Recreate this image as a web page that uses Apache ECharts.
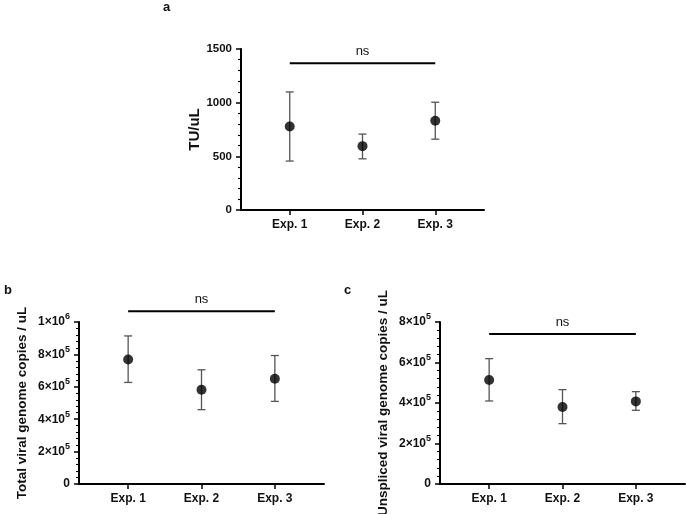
<!DOCTYPE html>
<html>
<head>
<meta charset="utf-8">
<script src="https://cdn.jsdelivr.net/npm/echarts@6/dist/echarts.min.js"></script>
<style>html,body{margin:0;padding:0;background:#fff}#c{width:686px;height:514px}</style>
</head>
<body>
<div id="c"></div>
<script>
// ---- data ----
var expPos = [1, 2, 3];
var expLabels = ['Exp. 1', 'Exp. 2', 'Exp. 3'];

var aMean = [778, 595, 831];
var aLow  = [456, 477, 660];
var aHigh = [1100, 707, 1004];
var aNs = 1367;

var bMean = [768000, 582000, 650000];
var bLow  = [627000, 459000, 510000];
var bHigh = [914000, 705000, 793000];
var bNs = 1066000;

var cMean = [513600, 380000, 408000];
var cLow  = [410000, 298000, 364000];
var cHigh = [619000, 466000, 456000];
var cNs = 741000;

var panelTitles = ['TU/uL', 'Total viral genome copies / uL', 'Unspliced viral genome copies / uL'];
var panelLetters = ['a', 'b', 'c'];

// ---- chart ----
var FONT = '"Liberation Sans", Arial, sans-serif';
var chart = echarts.init(document.getElementById('c'), null, {renderer: 'canvas'});

function supFmt(v) {
  if (v === 0) return '{b|0}';
  var e = Math.floor(Math.log10(v) + 1e-9);
  var m = Math.round(v / Math.pow(10, e));
  return '{b|' + m + '×10}{s|' + e + '}';
}

function xAxis(i) {
  return {
    type: 'value', gridIndex: i, min: 0.33, max: 3.67,
    axisLine: {show: true, lineStyle: {color: '#000', width: 2}},
    axisTick: {show: true, customValues: expPos, length: 5, lineStyle: {color: '#000', width: 1.5}},
    axisLabel: {show: true, customValues: expPos, margin: 9,
      fontFamily: FONT, fontWeight: 'bold', fontSize: 12, color: '#111',
      formatter: function (v) { return expLabels[Math.round(v) - 1]; }},
    splitLine: {show: false}
  };
}

function yAxis(i, max, interval, sup, name, gap) {
  return {
    type: 'value', gridIndex: i, min: 0, max: max, interval: interval,
    name: name, nameLocation: 'middle', nameGap: gap, nameRotate: 90,
    nameTextStyle: {fontFamily: FONT, fontWeight: 'bold', fontSize: i === 0 ? 15 : 13.5, color: '#111'},
    axisLine: {show: true, lineStyle: {color: '#000', width: 2}},
    axisTick: {show: true, length: 5, lineStyle: {color: '#000', width: 1.5}},
    minorTick: {show: true, splitNumber: 5, length: 3, lineStyle: {color: '#000', width: 1.1}},
    splitLine: {show: false},
    axisLabel: {margin: 9, fontFamily: FONT, fontWeight: 'bold', fontSize: 11.5, color: '#111',
      formatter: sup ? supFmt : function (v) { return '' + v; },
      rich: sup ? {
        b: {fontFamily: FONT, fontWeight: 'bold', fontSize: 12, color: '#111', lineHeight: 19},
        s: {fontFamily: FONT, fontWeight: 'bold', fontSize: 9, color: '#111', lineHeight: 9, verticalAlign: 'top'}
      } : undefined
    }
  };
}

function errSeries(i, low, high) {
  return {
    type: 'custom', xAxisIndex: i, yAxisIndex: i, clip: false, z: 2,
    data: expPos.map(function (x, k) { return [x, low[k], high[k]]; }),
    renderItem: function (params, api) {
      var top = api.coord([api.value(0), api.value(2)]);
      var bot = api.coord([api.value(0), api.value(1)]);
      var hw = 4;
      var st = {stroke: '#555', lineWidth: 1.3};
      return {type: 'group', children: [
        {type: 'line', shape: {x1: top[0], y1: top[1], x2: bot[0], y2: bot[1]}, style: st},
        {type: 'line', shape: {x1: top[0] - hw, y1: top[1], x2: top[0] + hw, y2: top[1]}, style: st},
        {type: 'line', shape: {x1: bot[0] - hw, y1: bot[1], x2: bot[0] + hw, y2: bot[1]}, style: st}
      ]};
    }
  };
}

function meanSeries(i, mean) {
  return {
    type: 'scatter', xAxisIndex: i, yAxisIndex: i, z: 3,
    symbol: 'circle', symbolSize: 10, itemStyle: {color: '#000'},
    data: expPos.map(function (x, k) { return [x, mean[k]]; })
  };
}

function nsSeries(i, level) {
  return {
    type: 'custom', xAxisIndex: i, yAxisIndex: i, clip: false, z: 2,
    data: [[expPos[0], expPos[2], level]],
    renderItem: function (params, api) {
      var p1 = api.coord([api.value(0), api.value(2)]);
      var p2 = api.coord([api.value(1), api.value(2)]);
      return {type: 'group', children: [
        {type: 'line', shape: {x1: p1[0], y1: p1[1], x2: p2[0], y2: p2[1]}, style: {stroke: '#000', lineWidth: 2}},
        {type: 'text', style: {text: 'ns', x: (p1[0] + p2[0]) / 2, y: p1[1] - 5,
          align: 'center', verticalAlign: 'bottom', font: '13px ' + FONT, fill: '#111'}}
      ]};
    }
  };
}

var option = {
  backgroundColor: '#fff',
  animation: false,
  grid: [
    {left: 241, top: 49, width: 243, height: 161, outerBoundsMode: 'none', containLabel: false},
    {left: 79, top: 322, width: 245, height: 162, outerBoundsMode: 'none', containLabel: false},
    {left: 440, top: 322, width: 245, height: 162, outerBoundsMode: 'none', containLabel: false}
  ],
  xAxis: [xAxis(0), xAxis(1), xAxis(2)],
  yAxis: [
    yAxis(0, 1500, 500, false, panelTitles[0], 38),
    yAxis(1, 1000000, 200000, true, panelTitles[1], 50),
    yAxis(2, 800000, 200000, true, panelTitles[2], 50)
  ],
  graphic: [
    {type: 'text', left: 163, top: 1, style: {text: panelLetters[0], font: 'bold 13px ' + FONT, fill: '#111'}},
    {type: 'text', left: 4, top: 284, style: {text: panelLetters[1], font: 'bold 13px ' + FONT, fill: '#111'}},
    {type: 'text', left: 344, top: 284, style: {text: panelLetters[2], font: 'bold 13px ' + FONT, fill: '#111'}}
  ],
  series: [
    errSeries(0, aLow, aHigh), meanSeries(0, aMean), nsSeries(0, aNs),
    errSeries(1, bLow, bHigh), meanSeries(1, bMean), nsSeries(1, bNs),
    errSeries(2, cLow, cHigh), meanSeries(2, cMean), nsSeries(2, cNs)
  ]
};
chart.setOption(option);
</script>
</body>
</html>
